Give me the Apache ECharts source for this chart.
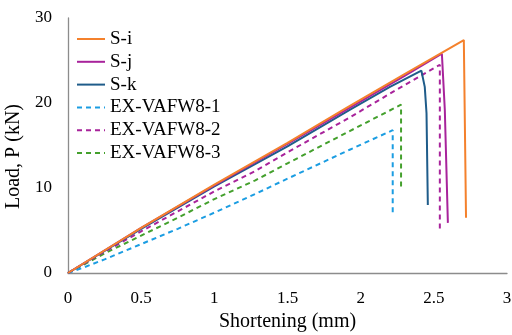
<!DOCTYPE html>
<html><head><meta charset="utf-8">
<script src="https://cdn.jsdelivr.net/npm/echarts@6/dist/echarts.min.js"></script>
<style>html,body{margin:0;padding:0;background:#fff}#c{width:512px;height:335px}</style>
</head><body><div id="c"></div>
<script>
const seriesNames = ['S-i','S-j','S-k','EX-VAFW8-1','EX-VAFW8-2','EX-VAFW8-3'];
const Si = [[0,0],[0.5,5.3],[1,10.4],[1.5,15.3],[1.9,19.4],[2.3,23.4],[2.705,27.4],[2.72,6.5]];
const Sj = [[0,0],[0.5,5.3],[1,10.3],[1.5,15.2],[1.9,19.2],[2.3,23.2],[2.555,25.8],[2.575,19.2],[2.596,5.9]];
const Sk = [[0,0],[0.5,5.2],[1,10.2],[1.5,14.9],[1.925,19.2],[2.2,21.9],[2.415,23.8],[2.438,21.9],[2.45,18.8],[2.459,8.0]];
const EX1 = [[0,0],[0.1,0.6],[0.25,1.6],[0.5,3.4],[0.75,5.2],[1,7.1],[1.28,9.3],[1.5,11.1],[1.925,14.5],[2.219,16.8],[2.219,6.9]];
const EX2 = [[0,0],[0.25,2.5],[0.5,4.9],[1,9.6],[1.28,12.0],[1.5,14.2],[1.925,18.3],[2.2,21.1],[2.541,24.5],[2.541,4.8]];
const EX3 = [[0,0],[0.25,2.3],[0.5,4.4],[0.75,6.5],[1,8.7],[1.28,10.9],[1.5,12.9],[1.925,16.7],[2.276,19.8],[2.276,10.0]];
const dataSets = [Si,Sj,Sk,EX1,EX2,EX3];
const colors = ['#F4812C','#A8239B','#1F5C8A','#1B9DE2','#A8239B','#44A02D'];
const dashed = [false,false,false,true,true,true];
const font = 'Liberation Serif';
const chart = echarts.init(document.getElementById('c'));
chart.setOption({
  animation:false,
  grid:{left:68,right:5,top:18,bottom:62,outerBoundsMode:'none',containLabel:false},
  legend:{
    orient:'vertical',left:71,top:24,itemWidth:28,itemHeight:2,itemGap:2.8,
    itemStyle:{opacity:0},
    textStyle:{fontFamily:font,fontSize:19,color:'#000',lineHeight:20},
    data:seriesNames
  },
  xAxis:{type:'value',min:0,max:3,interval:0.5,
    name:'Shortening (mm)',nameLocation:'middle',nameGap:37,
    nameTextStyle:{fontFamily:font,fontSize:20,color:'#000'},
    axisLine:{lineStyle:{color:'#8c8c8c',width:1.3}},axisTick:{show:false},splitLine:{show:false},
    axisLabel:{fontFamily:font,fontSize:17,color:'#000',margin:17}},
  yAxis:{type:'value',min:0,max:30,interval:10,
    name:'Load, P (kN)',nameLocation:'middle',nameGap:37,
    nameTextStyle:{fontFamily:font,fontSize:20,color:'#000',padding:[0,22,0,0]},
    axisLine:{show:true,lineStyle:{color:'#8c8c8c',width:1.3}},axisTick:{show:false},splitLine:{show:false},
    axisLabel:{fontFamily:font,fontSize:17,color:'#000',margin:16}},
  series:seriesNames.map((n,i)=>({
    name:n,type:'line',data:dataSets[i],symbol:'none',smooth:false,
    z: 10-i,
    lineStyle:{color:colors[i],width:2,type:dashed[i]?[5,4]:'solid'},
    itemStyle:{color:colors[i]}
  }))
});
</script></body></html>
